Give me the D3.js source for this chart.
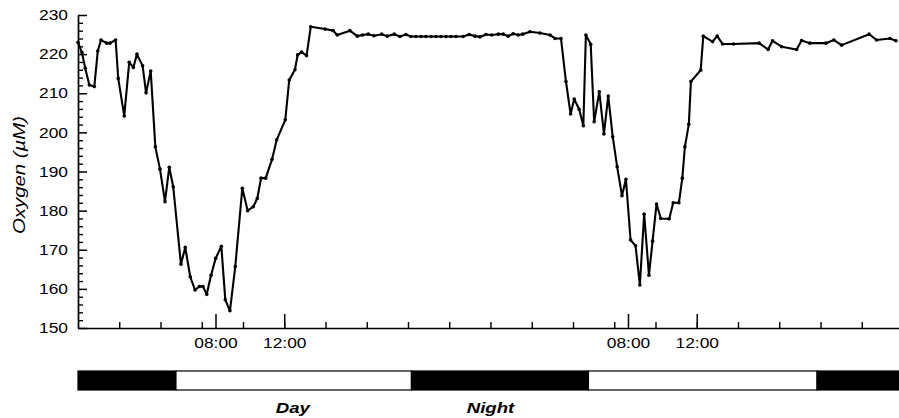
<!DOCTYPE html>
<html>
<head>
<meta charset="utf-8">
<script src="https://cdn.jsdelivr.net/npm/d3@7"></script>
<style>
  body { margin: 0; background: #fff; }
  svg { display: block; }
  text { font-family: "Liberation Sans", Arial, Helvetica, sans-serif; fill: #000; }
</style>
</head>
<body>
<svg id="chart" width="899" height="418"></svg>
<script>
// Hours since midnight of the first day
const hours = [
  0.00, 0.23, 0.42, 0.66, 0.95, 1.15, 1.34, 1.67, 1.86, 2.19,
  2.34, 2.69, 2.98, 3.22, 3.43, 3.76, 3.96, 4.23, 4.50, 4.77,
  5.06, 5.31, 5.54, 5.99, 6.24, 6.53, 6.81, 7.06, 7.27, 7.49,
  7.74, 8.01, 8.34, 8.57, 8.84, 9.15, 9.56, 9.87, 10.20, 10.43,
  10.65, 10.92, 11.29, 11.56, 12.06, 12.29, 12.62, 12.78, 13.01, 13.30,
  13.54, 14.37, 14.85, 15.08, 15.82, 16.25, 16.56, 16.89, 17.22, 17.67,
  17.99, 18.40, 18.73, 19.08, 19.37, 19.66, 19.95, 20.24, 20.54, 20.83,
  21.12, 21.41, 21.70, 21.99, 22.41, 22.76, 23.09, 23.39, 23.73, 24.07,
  24.45, 24.74, 25.03, 25.32, 25.61, 25.87, 26.29, 26.88, 27.46, 27.75,
  28.10, 28.39, 28.66, 28.87, 29.16, 29.40, 29.55, 29.83, 30.03, 30.33,
  30.60, 30.85, 31.11, 31.37, 31.65, 31.88, 32.15, 32.44, 32.69, 32.94,
  33.22, 33.43, 33.66, 33.91, 34.40, 34.63, 34.96, 35.16, 35.31, 35.54,
  35.66, 36.23, 36.38, 36.92, 37.19, 37.50, 38.14, 39.63, 40.15, 40.41,
  40.94, 41.81, 42.10, 42.58, 43.51, 43.98, 44.43, 46.03, 46.46, 47.24,
  47.59
];

// Dissolved oxygen, µM
const oxygen = [
  223.0, 220.4, 216.4, 212.1, 211.7, 220.8, 223.6, 222.8, 222.8, 223.6,
  213.8, 204.2, 217.9, 216.6, 220.0, 217.0, 210.1, 215.7, 196.3, 190.6,
  182.3, 191.1, 186.1, 166.3, 170.6, 163.1, 159.7, 160.6, 160.6, 158.6,
  163.5, 167.8, 170.9, 157.2, 154.4, 165.7, 185.7, 180.0, 181.0, 183.1,
  188.3, 188.3, 193.1, 198.1, 203.2, 213.4, 216.0, 219.8, 220.5, 219.6,
  227.0, 226.4, 226.0, 224.9, 226.0, 224.6, 224.9, 225.1, 224.7, 225.1,
  224.6, 225.1, 224.5, 225.0, 224.5, 224.5, 224.5, 224.5, 224.5, 224.5,
  224.5, 224.5, 224.5, 224.5, 224.5, 225.0, 224.6, 224.4, 225.0, 224.9,
  225.1, 225.1, 224.6, 225.2, 224.9, 225.1, 225.7, 225.4, 224.9, 224.0,
  224.0, 213.0, 204.7, 208.5, 205.9, 201.7, 224.9, 222.5, 202.7, 210.4,
  199.6, 209.3, 198.9, 191.2, 183.8, 188.0, 172.5, 171.0, 161.0, 179.1,
  163.5, 172.2, 181.7, 178.0, 177.9, 182.0, 182.0, 188.3, 196.3, 202.1,
  213.0, 215.9, 224.6, 223.2, 224.6, 222.6, 222.6, 222.8, 221.2, 223.4,
  221.9, 221.2, 223.5, 222.8, 222.8, 223.6, 222.3, 225.1, 223.6, 224.0,
  223.4
];

const oxygenTicks = [150, 160, 170, 180, 190, 200, 210, 220, 230];
const oxygenMinorTicks = [152, 154, 156, 158, 162, 164, 166, 168, 172, 174, 176, 178,
  182, 184, 186, 188, 192, 194, 196, 198, 202, 204, 206, 208, 212, 214, 216, 218,
  222, 224, 226, 228];

const clockTickHours = [8, 12, 32, 36];
const clockTickLabels = ["08:00", "12:00", "08:00", "12:00"];
const minorTickHours = [2.4, 4.8, 7.2, 9.6, 12.0, 14.4, 16.8, 19.2, 21.6, 24.0,
  26.4, 28.8, 31.2, 33.6, 36.0, 38.4, 40.8, 43.2, 45.6];

// Light/dark periods along the bottom strip
const periodStart = [0, 5.7, 19.4, 29.7, 43.0];
const periodEnd   = [5.7, 19.4, 29.7, 43.0, 48];
const periodIsDay = [false, true, false, true, false];
const periodNames = ["Day", "Night"];
const periodNameHours = [12.5, 24.0];

const svg = d3.select("#chart");
const textStretch = 1.2;

const x = d3.scaleLinear().domain([0, 48]).range([78, 903]);
const y = d3.scaleLinear().domain([150, 230]).range([328, 15]);

// Y axis: minor ticks then labelled major ticks, ticks pointing inward
svg.append("g")
  .attr("transform", "translate(78,0)")
  .call(d3.axisLeft(y).tickValues(oxygenMinorTicks).tickSizeInner(-5).tickSizeOuter(0).tickFormat(""))
  .call(g => g.select(".domain").remove())
  .call(g => g.selectAll("line").attr("stroke-width", 1.4));

const yAxis = svg.append("g")
  .attr("transform", "translate(78,0)")
  .call(d3.axisLeft(y).tickValues(oxygenTicks).tickSizeInner(-9).tickSizeOuter(0).tickPadding(10));
yAxis.select(".domain").attr("stroke-width", 1.7);
yAxis.selectAll("line").attr("stroke-width", 1.5);
yAxis.selectAll("text")
  .attr("font-size", 14.5)
  .attr("x", -10 / textStretch)
  .attr("transform", `scale(${textStretch},1)`)
  .style("font-family", "'Liberation Sans', Arial, sans-serif");

// X axis: clock-time ticks plus evenly spaced minor ticks
svg.append("g")
  .attr("transform", "translate(0,328)")
  .call(d3.axisBottom(x).tickValues(minorTickHours).tickSizeInner(-6).tickSizeOuter(0).tickFormat(""))
  .call(g => g.select(".domain").remove())
  .call(g => g.selectAll("line").attr("stroke-width", 1.4));

const xAxis = svg.append("g")
  .attr("transform", "translate(0,328)")
  .call(d3.axisBottom(x).tickValues(clockTickHours).tickSizeInner(-14).tickSizeOuter(0).tickPadding(10)
    .tickFormat((d, i) => clockTickLabels[i]));
xAxis.select(".domain").attr("stroke-width", 1.7);
xAxis.selectAll("line").attr("stroke-width", 1.5);
xAxis.selectAll("text")
  .attr("font-size", 14.5)
  .attr("transform", `scale(${textStretch},1)`)
  .style("font-family", "'Liberation Sans', Arial, sans-serif");

// Y axis title
svg.append("text")
  .attr("transform", `translate(25,175) rotate(-90) scale(${textStretch},1)`)
  .attr("text-anchor", "middle")
  .attr("font-size", 17)
  .attr("font-style", "italic")
  .text("Oxygen (\u00b5M)");

// Oxygen trace
const pts = hours.map((h, i) => [h, oxygen[i]]);
svg.append("path")
  .datum(pts)
  .attr("fill", "none")
  .attr("stroke", "#000")
  .attr("stroke-width", 2.1)
  .attr("stroke-linejoin", "round")
  .attr("d", d3.line().x(d => x(d[0])).y(d => y(d[1])));

svg.append("g")
  .selectAll("circle")
  .data(pts)
  .join("circle")
  .attr("cx", d => x(d[0]))
  .attr("cy", d => y(d[1]))
  .attr("r", 1.8)
  .attr("fill", "#000");

// Light/dark strip
const strip = svg.append("g");
strip.selectAll("rect")
  .data(periodStart.map((s, i) => ({ s, e: periodEnd[i], day: periodIsDay[i] })))
  .join("rect")
  .attr("x", d => x(d.s))
  .attr("width", d => x(d.e) - x(d.s))
  .attr("y", 371)
  .attr("height", 19)
  .attr("fill", d => d.day ? "#fff" : "#000")
  .attr("stroke", "#000")
  .attr("stroke-width", 1.2);

svg.append("g")
  .selectAll("text")
  .data(periodNames)
  .join("text")
  .attr("transform", (d, i) => `translate(${x(periodNameHours[i])},413) scale(${textStretch},1)`)
  .attr("text-anchor", "middle")
  .attr("font-size", 15.5)
  .attr("font-weight", "bold")
  .attr("font-style", "italic")
  .text(d => d);
</script>
</body>
</html>
